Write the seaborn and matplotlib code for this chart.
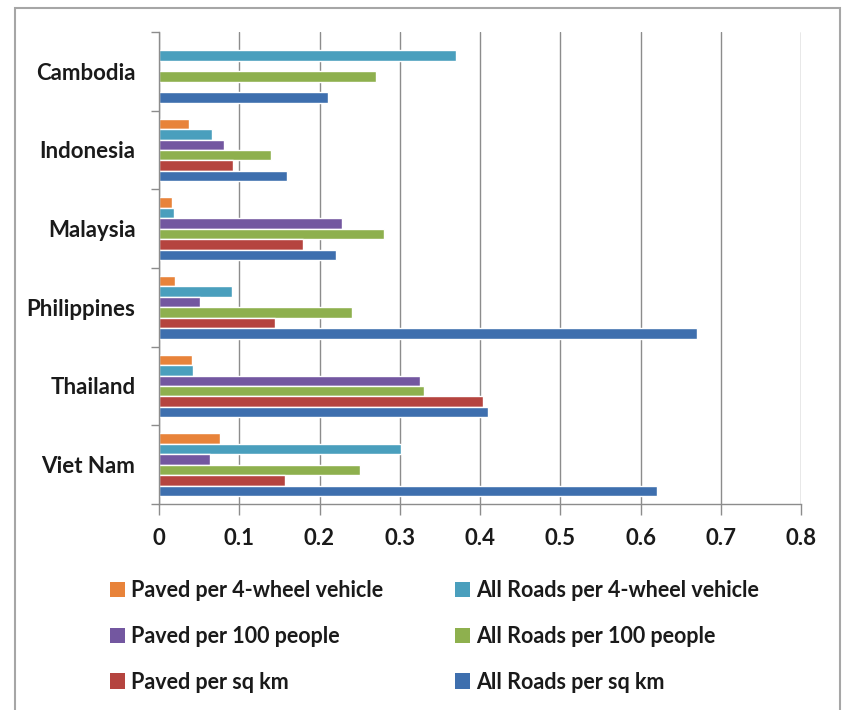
import numpy as np
import pandas as pd
import matplotlib
matplotlib.use("Agg")
import matplotlib.pyplot as plt
from matplotlib.patches import Rectangle, Patch
import seaborn as sns

countries = ["Cambodia", "Indonesia", "Malaysia", "Philippines", "Thailand", "Viet Nam"]

series_names = [
    "Paved per 4-wheel vehicle",
    "All Roads per 4-wheel vehicle",
    "Paved per 100 people",
    "All Roads per 100 people",
    "Paved per sq km",
    "All Roads per sq km",
]

paved_per_vehicle = [np.nan, 0.038, 0.016, 0.020, 0.041, 0.076]
all_per_vehicle = [0.370, 0.066, 0.019, 0.091, 0.042, 0.302]
paved_per_100 = [np.nan, 0.081, 0.228, 0.051, 0.325, 0.063]
all_per_100 = [0.270, 0.140, 0.280, 0.240, 0.330, 0.250]
paved_per_sqkm = [np.nan, 0.092, 0.179, 0.144, 0.404, 0.157]
all_per_sqkm = [0.210, 0.159, 0.220, 0.670, 0.410, 0.620]

x_ticks = [0, 0.1, 0.2, 0.3, 0.4, 0.5, 0.6, 0.7, 0.8]

colors = ["#E8833A", "#4A9FBD", "#7357A0", "#8EB04E", "#B5443F", "#3E6FAE"]

series_values = [paved_per_vehicle, all_per_vehicle, paved_per_100,
                 all_per_100, paved_per_sqkm, all_per_sqkm]

df = pd.DataFrame({
    "country": [c for _ in series_names for c in countries],
    "series": np.repeat(series_names, len(countries)),
    "value": np.concatenate(series_values),
})

sns.set_theme(style="white")
plt.rcParams["font.family"] = ["Lato", "DejaVu Sans"]

fig = plt.figure(figsize=(8.42, 7.10), dpi=100)
ax = fig.add_axes([159 / 842, 1 - 504 / 710, (801 - 159) / 842, (504 - 32) / 710])

sns.barplot(
    data=df, y="country", x="value", hue="series",
    order=countries, hue_order=series_names,
    palette=colors, orient="h", width=0.8, dodge=True,
    errorbar=None, saturation=1, legend=False, ax=ax,
)

ax.set_xlim(0, 0.8)
ax.set_ylim(5.5, -0.5)
ax.set_xlabel("")
ax.set_ylabel("")

grid_col = "#8C8C8C"
text_col = "#1a1a1a"
axis_size = 16
ax.set_xticks(x_ticks)
ax.set_xticklabels([f"{t:g}" for t in x_ticks])
ax.xaxis.grid(True, color=grid_col, linewidth=1.0)
ax.set_axisbelow(True)

ax.set_yticks(range(len(countries)))
ax.set_yticklabels(countries)
ax.set_yticks(np.arange(-0.5, len(countries), 1.0), minor=True)
ax.tick_params(axis="y", which="major", length=0, pad=17, labelsize=axis_size,
               labelcolor=text_col)
ax.tick_params(axis="y", which="minor", length=6, width=1, color=grid_col, left=True)
ax.tick_params(axis="x", which="major", length=8, width=1, color=grid_col,
               bottom=True, pad=9, labelsize=axis_size, labelcolor=text_col)

for side in ["top", "right"]:
    ax.spines[side].set_visible(False)
for side in ["left", "bottom"]:
    ax.spines[side].set_color(grid_col)
    ax.spines[side].set_linewidth(1.0)

for lab in ax.get_yticklabels() + ax.get_xticklabels():
    lab.set_fontweight("bold")

# Legend: two columns, each drawn as its own single-column legend
legend_size = 15.5
columns = [[0, 2, 4], [1, 3, 5]]
col_x = [110, 455]
for idxs, x0 in zip(columns, col_x):
    handles = [Patch(facecolor=colors[i], edgecolor="none") for i in idxs]
    labels = [series_names[i] for i in idxs]
    leg = fig.legend(
        handles, labels, ncol=1, loc="upper left",
        bbox_to_anchor=(x0 / 842, 1 - 580 / 710),
        frameon=False, borderpad=0, borderaxespad=0,
        handlelength=0.7, handleheight=0.7, handletextpad=0.28,
        labelspacing=1.15,
        prop={"size": legend_size, "weight": "bold"},
    )
    for t in leg.get_texts():
        t.set_color(text_col)

fig.patches.append(Rectangle((15 / 842, -0.05), (840 - 15) / 842, 1.05 - 8 / 710,
                             transform=fig.transFigure, fill=False,
                             edgecolor="#A6A6A6", linewidth=1.5))

fig.savefig("out.png", dpi=100, facecolor="white")
